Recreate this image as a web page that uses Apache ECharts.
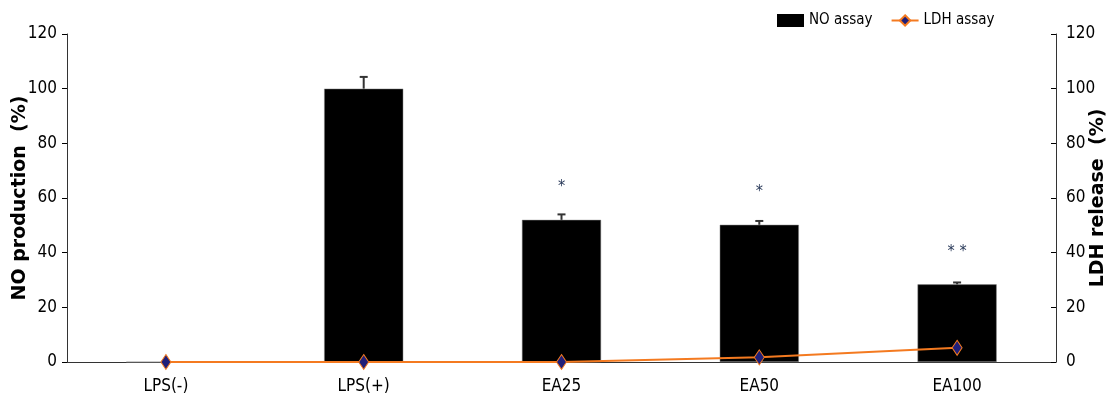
<!DOCTYPE html>
<html>
<head>
<meta charset="utf-8">
<script src="https://cdn.jsdelivr.net/npm/echarts@6/dist/echarts.min.js"></script>
<style>html,body{margin:0;padding:0;background:#fff}#c{width:1114px;height:410px}</style>
</head>
<body>
<div id="c"></div>
<script>
var categories = ['LPS(-)', 'LPS(+)', 'EA25', 'EA50', 'EA100'];
var noValues = [0, 100, 52, 50.2, 28.4];
var noErrors = [0, 4.3, 2.0, 1.4, 0.7];
var ldhValues = [0, 0, 0, 1.7, 5.2];
var significance = ['', '', '*', '*', '* *'];

var FONT = "'Liberation Sans Narrow', 'Arial Narrow', 'DejaVu Sans Condensed', 'Liberation Sans', Arial, sans-serif";
var NAMEFONT = "'DejaVu Sans', 'Liberation Sans', Arial, sans-serif";
var chart = echarts.init(document.getElementById('c'));

var errData = categories.map(function (c, i) { return [i, noValues[i], noValues[i] + noErrors[i]]; });

chart.setOption({
  animation: false,
  legend: {
    top: 13,
    left: 777,
    padding: 0,
    itemGap: 18,
    itemWidth: 27,
    itemHeight: 13,
    textStyle: { fontFamily: FONT, fontSize: 15, color: '#000' },
    data: [
      { name: 'NO assay', icon: 'rect', itemStyle: { borderWidth: 0, color: '#000' } },
      { name: 'LDH assay' }
    ]
  },
  grid: { left: 67, right: 58, top: 34, bottom: 48, outerBoundsMode: 'none', containLabel: false },
  xAxis: {
    type: 'category',
    data: categories,
    axisLine: { lineStyle: { color: '#333', width: 1 } },
    axisTick: { inside: true, length: 6, lineStyle: { color: '#000' } },
    axisLabel: { fontFamily: FONT, fontSize: 17, color: '#000', margin: 16 }
  },
  yAxis: [
    {
      type: 'value', min: 0, max: 120, interval: 20, position: 'left',
      name: 'NO production  (%)', nameLocation: 'middle', nameRotate: 90, nameGap: 37,
      nameMoveOverlap: false,
      nameTextStyle: { fontFamily: NAMEFONT, fontWeight: 'bold', fontSize: 19, color: '#000' },
      axisLine: { show: true, lineStyle: { color: '#333' } },
      axisTick: { show: true, length: 5, lineStyle: { color: '#000' } },
      axisLabel: { fontFamily: FONT, fontSize: 17, color: '#000', margin: 10 },
      splitLine: { show: false }
    },
    {
      type: 'value', min: 0, max: 120, interval: 20, position: 'right',
      name: 'LDH release  (%)', nameLocation: 'middle', nameRotate: 90, nameGap: 33,
      nameMoveOverlap: false,
      nameTextStyle: { fontFamily: NAMEFONT, fontWeight: 'bold', fontSize: 19, color: '#000' },
      axisLine: { show: true, lineStyle: { color: '#333' } },
      axisTick: { show: true, inside: true, length: 5, lineStyle: { color: '#000' } },
      axisLabel: { fontFamily: FONT, fontSize: 17, color: '#000', margin: 10 },
      splitLine: { show: false }
    }
  ],
  series: [
    {
      name: 'NO assay',
      type: 'bar',
      yAxisIndex: 0,
      barWidth: '40%',
      data: noValues,
      itemStyle: { color: '#000', borderColor: '#888', borderWidth: 0.5 },
      label: {
        show: true, position: 'top', distance: 25,
        fontFamily: FONT, fontSize: 16, color: '#2a3a5a',
        formatter: function (p) { return significance[p.dataIndex]; }
      },
      z: 2
    },
    {
      name: 'errors',
      type: 'custom',
      yAxisIndex: 0,
      data: errData,
      renderItem: function (params, api) {
        var x = api.coord([api.value(0), api.value(1)]);
        var top = api.coord([api.value(0), api.value(2)]);
        if (api.value(2) - api.value(1) <= 0) return;
        var style = { stroke: '#333', lineWidth: 2 };
        return {
          type: 'group',
          children: [
            { type: 'line', shape: { x1: x[0], y1: x[1], x2: top[0], y2: top[1] }, style: style },
            { type: 'line', shape: { x1: top[0] - 4, y1: top[1], x2: top[0] + 4, y2: top[1] }, style: style }
          ]
        };
      },
      z: 3
    },
    {
      name: 'LDH assay',
      type: 'line',
      yAxisIndex: 1,
      data: ldhValues,
      symbol: 'diamond',
      symbolSize: [10, 15],
      lineStyle: { color: '#f47a20', width: 2 },
      itemStyle: { color: '#1f1f7a', borderColor: '#f47a20', borderWidth: 1 },
      z: 4
    }
  ]
});
</script>
</body>
</html>
